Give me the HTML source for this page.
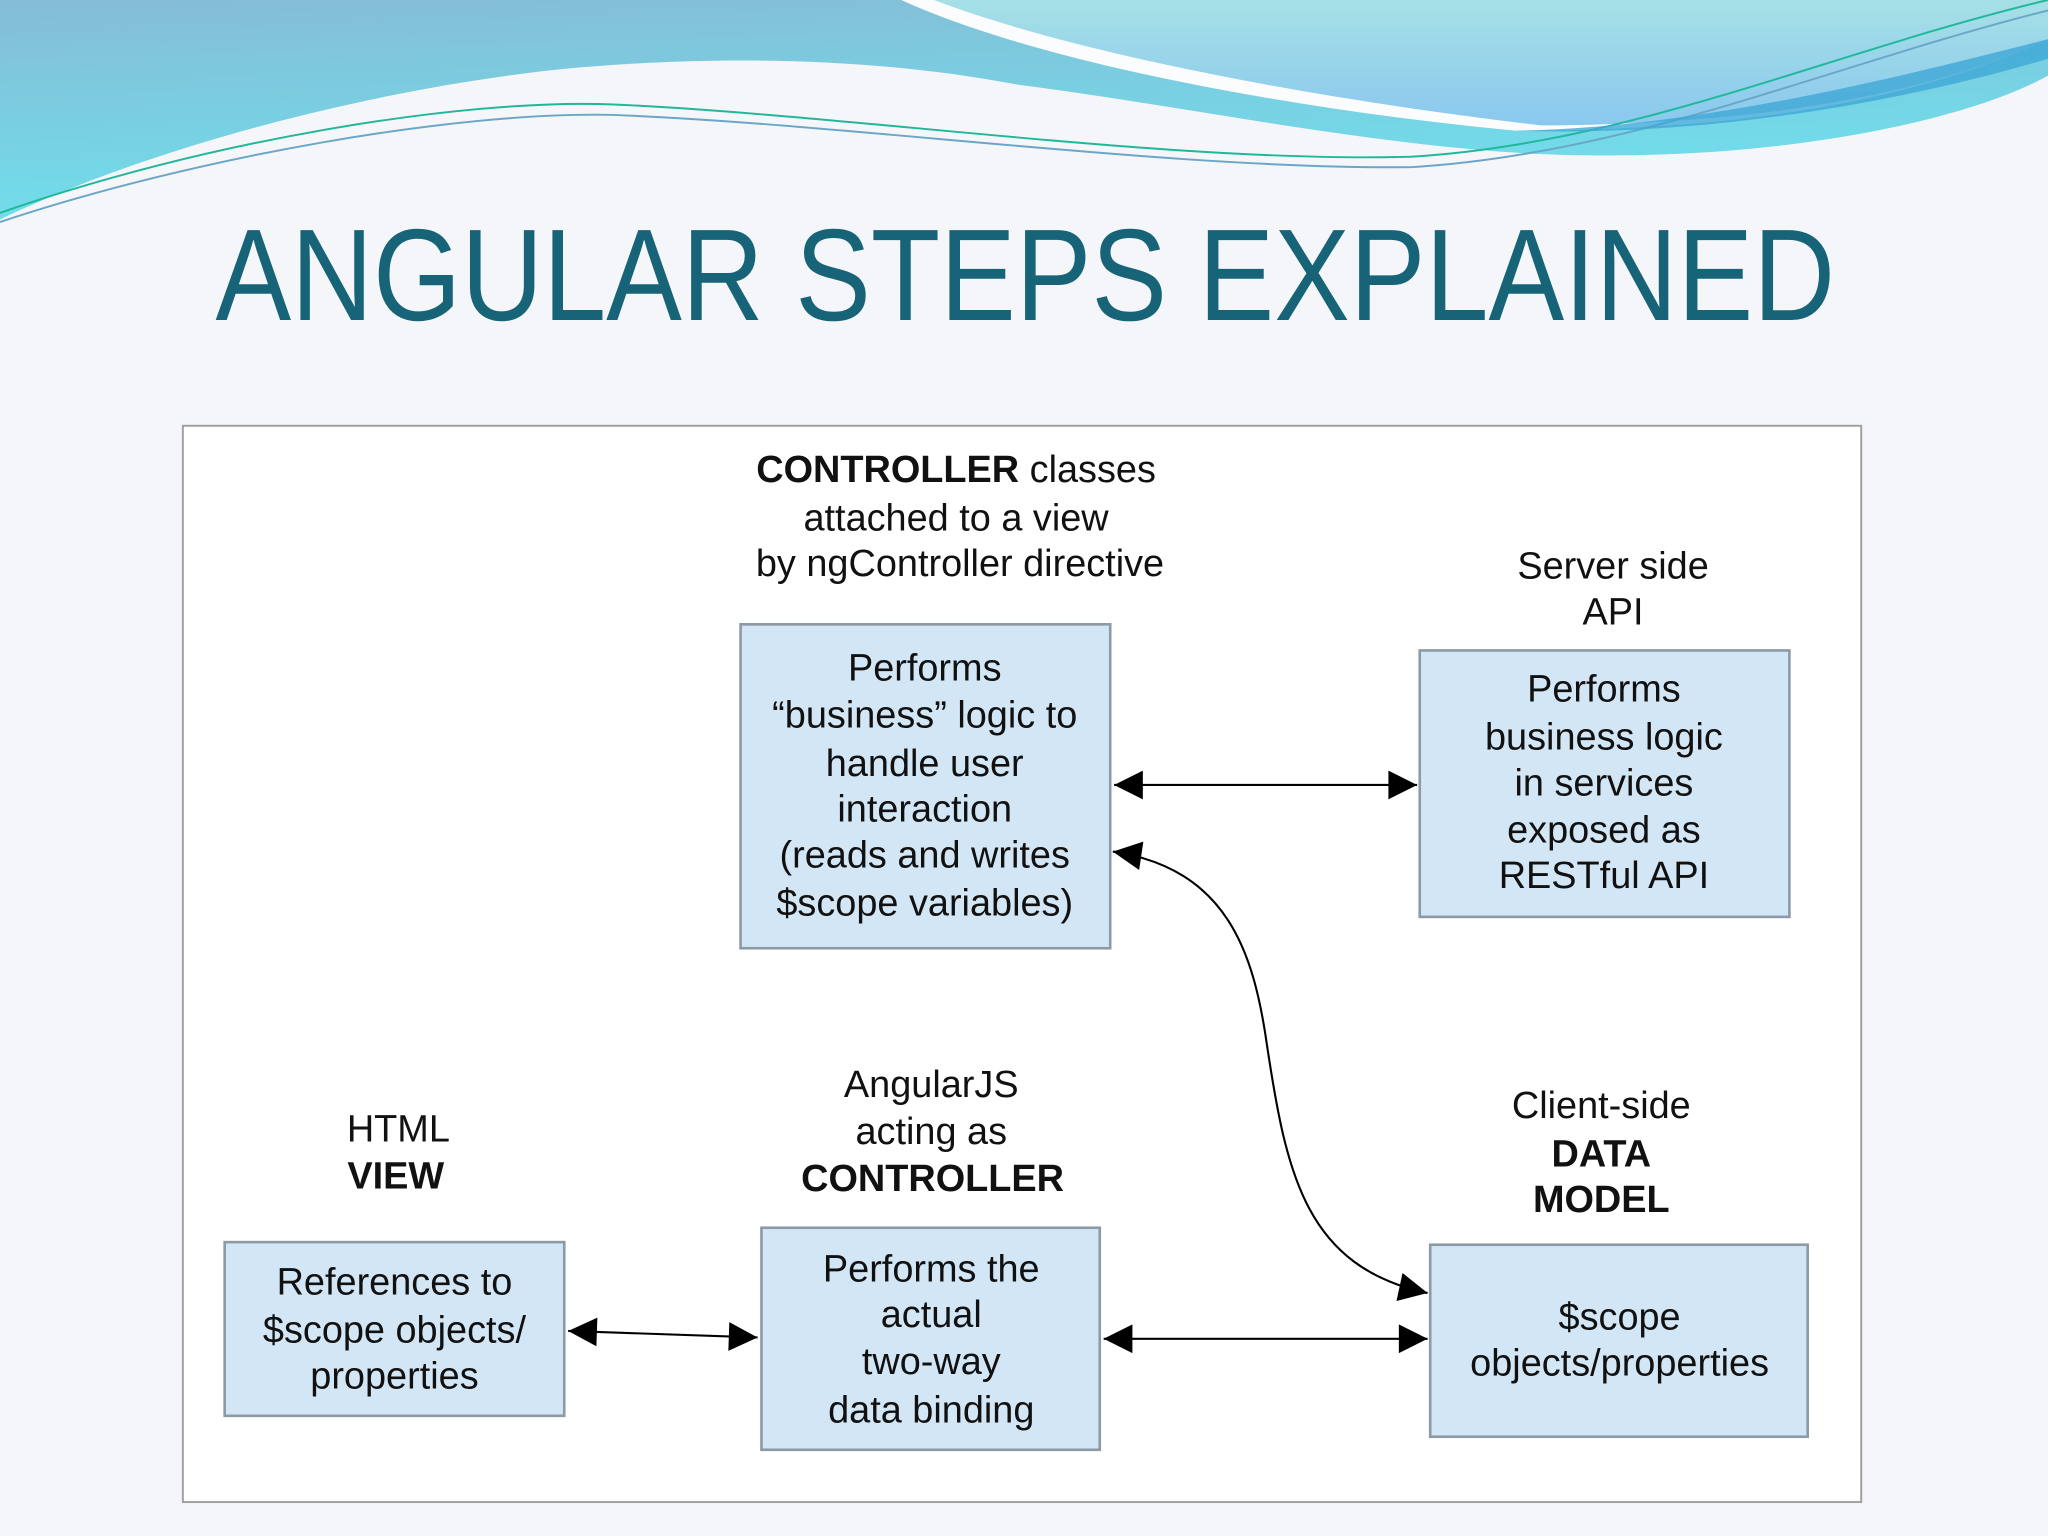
<!DOCTYPE html>
<html><head><meta charset="utf-8"><style>
html,body{margin:0;padding:0;background:#f5f6f9;}
svg{display:block;}
</style></head><body>
<svg width="2048" height="1536" viewBox="0 0 1568 1176" xmlns="http://www.w3.org/2000/svg">
<defs>
<linearGradient id="bg1" x1="0" y1="0" x2="0.3" y2="1"><stop offset="0" stop-color="#86bcd6"/><stop offset="1" stop-color="#6ee0ec"/></linearGradient>
<linearGradient id="bg2" x1="0" y1="0" x2="0" y2="1"><stop offset="0" stop-color="#a6e0e6"/><stop offset="1" stop-color="#8ac8ee"/></linearGradient>
<marker id="ah" viewBox="0 0 10 10" refX="10" refY="5" markerWidth="32" markerHeight="22" markerUnits="userSpaceOnUse" orient="auto-start-reverse"><path d="M0,0 L10,5 L0,10 z" fill="#000"/></marker>
</defs>
<rect width="1568" height="1176" fill="#f5f6f9"/>
<path d="M0,0 L1568,0 L1568,58 C1500,95 1350,125 1180,118 C1050,112 900,80 780,65 C650,40 520,45 440,52 C300,65 120,110 0,168 Z" fill="url(#bg1)"/>
<path d="M690,0 L1568,0 L1568,30 C1480,70 1360,100 1160,100 C1000,85 800,50 690,0 Z" fill="#fbfcfd"/>
<path d="M715,0 L1568,0 L1568,30 C1480,70 1360,95 1180,96 C1000,75 820,40 715,0 Z" fill="url(#bg2)"/>
<path d="M0,163 C150,110 350,75 470,80 C650,88 900,125 1080,120 C1250,110 1400,40 1568,0" fill="none" stroke="#1fb89a" stroke-width="1.5"/>
<path d="M0,170 C150,120 350,85 470,88 C650,95 900,130 1080,128 C1250,118 1400,50 1568,8" fill="none" stroke="#6aa6c8" stroke-width="1.5"/>
<path d="M1160,100 C1300,98 1450,60 1568,30 L1568,45 C1450,80 1300,105 1160,100 Z" fill="#3ea8d6" opacity="0.8"/>

<text x="785" y="245" text-anchor="middle" font-family="Liberation Sans, sans-serif" font-size="100" fill="#176478" textLength="1240" lengthAdjust="spacingAndGlyphs">ANGULAR STEPS EXPLAINED</text>

<rect x="140" y="326" width="1285" height="824" fill="#fff" stroke="#a0a0a0" stroke-width="1.5"/>

<g font-family="Liberation Sans, sans-serif" font-size="29" fill="#111" text-anchor="middle">
<text x="732" y="369"><tspan font-weight="bold">CONTROLLER</tspan> classes</text>
<text x="732" y="406">attached to a view</text>
<text x="735" y="441">by ngController directive</text>
<text x="1235" y="443">Server side</text>
<text x="1235" y="478">API</text>
<text x="305" y="874">HTML</text>
<text x="303" y="910" font-weight="bold">VIEW</text>
<text x="713" y="840">AngularJS</text>
<text x="713" y="876">acting as</text>
<text x="714" y="912" font-weight="bold">CONTROLLER</text>
<text x="1226" y="856">Client-side</text>
<text x="1226" y="893" font-weight="bold">DATA</text>
<text x="1226" y="928" font-weight="bold">MODEL</text>
</g>

<g fill="#d3e6f5" stroke="#8b9aa6" stroke-width="2">
<rect x="567" y="478" width="283" height="248"/>
<rect x="1087" y="498" width="283" height="204"/>
<rect x="172" y="951" width="260" height="133"/>
<rect x="583" y="940" width="259" height="170"/>
<rect x="1095" y="953" width="289" height="147"/>
</g>

<g font-family="Liberation Sans, sans-serif" font-size="29" fill="#111" text-anchor="middle">
<text x="708" y="521">Performs</text>
<text x="708" y="557">“business” logic to</text>
<text x="708" y="594">handle user</text>
<text x="708" y="629">interaction</text>
<text x="708" y="664">(reads and writes</text>
<text x="708" y="701">$scope variables)</text>
<text x="1228" y="537">Performs</text>
<text x="1228" y="574">business logic</text>
<text x="1228" y="609">in services</text>
<text x="1228" y="645">exposed as</text>
<text x="1228" y="680">RESTful API</text>
<text x="302" y="991">References to</text>
<text x="302" y="1028">$scope objects/</text>
<text x="302" y="1063">properties</text>
<text x="713" y="981">Performs the</text>
<text x="713" y="1016">actual</text>
<text x="713" y="1052">two-way</text>
<text x="713" y="1089">data binding</text>
<text x="1240" y="1018">$scope</text>
<text x="1240" y="1053">objects/properties</text>
</g>

<g stroke="#000" stroke-width="1.6" fill="none">
<path d="M853,601 L1085,601" marker-start="url(#ah)" marker-end="url(#ah)"/>
<path d="M435,1019 L580,1024" marker-start="url(#ah)" marker-end="url(#ah)"/>
<path d="M845,1025 L1093,1025" marker-start="url(#ah)" marker-end="url(#ah)"/>
<path d="M852,652 C940,665 960,730 970,800 C985,900 1000,970 1093,990" marker-start="url(#ah)" marker-end="url(#ah)"/>
</g>
</svg>
</body></html>
